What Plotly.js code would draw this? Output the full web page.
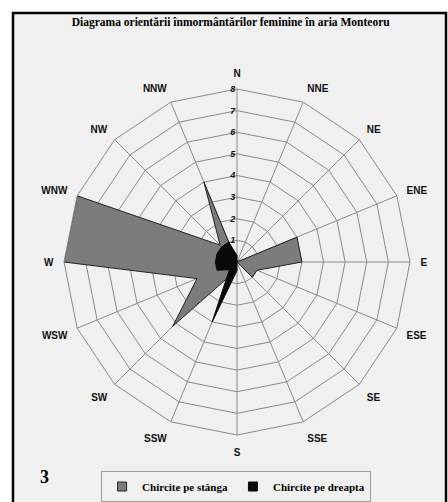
<!DOCTYPE html>
<html>
<head>
<meta charset="utf-8">
<script src="https://cdn.plot.ly/plotly-3.0.1.min.js"></script>
<style>html,body{margin:0;padding:0;background:#fff}#chart{width:448px;height:502px}</style>
</head>
<body>
<div id="chart"></div>
<script>
const directions = ['N','NNE','NE','ENE','E','ESE','SE','SSE','S','SSW','SW','WSW','W','WNW','NW','NNW'];
const stanga  = [0, 0, 0, 3, 3, 1, 1, 0, 0, 0.6, 4.2, 2, 8, 8, 1.1, 4];
const dreapta = [0.3, 0, 0, 0, 0, 0, 0, 0, 0.4, 3, 0.5, 1, 1, 1, 1, 1];
const radialTicks = [1,2,3,4,5,6,7,8];
const seriesNames = ['Chircite pe stânga', 'Chircite pe dreapta'];

function closed(a){ return a.concat([a[0]]); }

const traces = [
  {type:'scatterpolar', r: closed(stanga), theta: closed(directions), name:seriesNames[0], showlegend:false,
   mode:'lines', fill:'toself', fillcolor:'#7c7c7c', line:{color:'#222', width:1}},
  {type:'scatterpolar', r: closed(dreapta), theta: closed(directions), name:seriesNames[1], showlegend:false,
   mode:'lines', fill:'toself', fillcolor:'#0a0a0a', line:{color:'#0a0a0a', width:1}},
  {type:'scatterpolar', r:[null], theta:[directions[0]], name:seriesNames[0], mode:'markers',
   marker:{symbol:'square', size:9, color:'#7c7c7c', line:{color:'#222', width:1}}},
  {type:'scatterpolar', r:[null], theta:[directions[0]], name:seriesNames[1], mode:'markers',
   marker:{symbol:'square', size:9, color:'#0a0a0a', line:{color:'#0a0a0a', width:1}}}
];

const layout = {
  width:448, height:502,
  margin:{l:0,r:0,t:0,b:0},
  paper_bgcolor:'#ffffff',
  showlegend:true,
  title:{text:'<b>Diagrama orientării înmormântărilor feminine în aria Monteoru</b>',
         font:{family:'Liberation Serif, Times New Roman, serif', size:11.5, color:'#000'},
         x:0.515, xanchor:'center', y:1-22/502, yanchor:'middle'},
  legend:{orientation:'h', x:0.527, xanchor:'center', y:0, yanchor:'bottom',
          bgcolor:'#f0f0f0', bordercolor:'#999', borderwidth:1,
          font:{family:'Liberation Serif, Times New Roman, serif', size:11, color:'#000', weight:'bold'},
          itemwidth:30, tracegroupgap:0},
  polar:{
    domain:{x:[64/448, 410/448], y:[1-435/502, 1-89/502]},
    bgcolor:'rgba(0,0,0,0)',
    gridshape:'linear',
    angularaxis:{type:'category', categoryarray:directions, direction:'clockwise', rotation:90,
                 showline:true, linecolor:'#8a8a8a', linewidth:1, gridcolor:'#8a8a8a', gridwidth:1,
                 ticks:'outside', ticklen:8, tickcolor:'rgba(0,0,0,0)',
                 tickfont:{family:'Liberation Sans, Arial, sans-serif', size:10, color:'#111', weight:'bold'}},
    radialaxis:{range:[0,8], tickvals:radialTicks, ticktext:radialTicks.map(String), angle:90, tickangle:90,
                side:'counterclockwise', showline:false, gridcolor:'#8a8a8a', gridwidth:1, ticks:'',
                tickfont:{family:'Liberation Sans, Arial, sans-serif', size:9, color:'#111', weight:'bold', style:'italic'}}
  },
  shapes:[
    {type:'rect', xref:'paper', yref:'paper', x0:13/448, x1:446/448, y0:-0.01, y1:1-13/502,
     line:{color:'#000', width:2.5}, fillcolor:'#f0f0f0', layer:'below'}
  ],
  annotations:[
    {text:'<b>3</b>', xref:'paper', yref:'paper', x:38/448, y:1-489/502, showarrow:false,
     font:{family:'Liberation Serif, Times New Roman, serif', size:18, color:'#000'}}
  ]
};

Plotly.newPlot('chart', traces, layout, {displayModeBar:false, staticPlot:true});
</script>
</body>
</html>
